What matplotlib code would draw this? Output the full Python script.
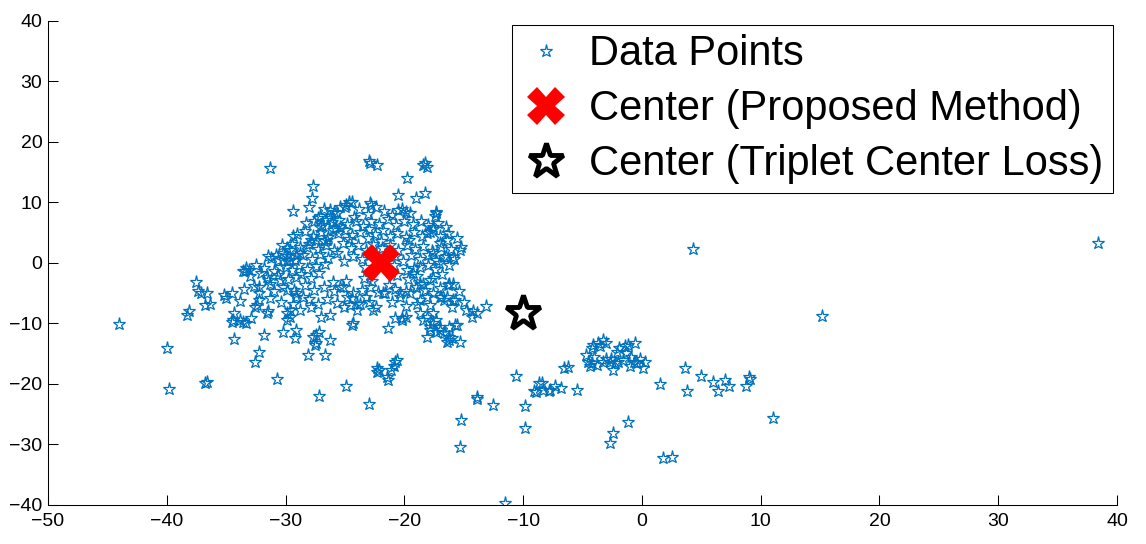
import matplotlib

matplotlib.use("Agg")
import matplotlib.pyplot as plt

# scattered points on the left side of the main cluster
left_x = [-44.0, -40.0, -39.8, -38.3, -38.1, -37.5, -37.4, -37.1, -36.6, -36.4, -36.8,
          -35.2, -34.5, -35.0, -36.6, -36.8, -34.4, -34.5, -33.8, -33.3, -32.9, -34.3,
          -32.2, -32.6, -31.8, -30.7, -30.2, -29.1, -29.2, -32.4, -32.2, -31.6, -29.9,
          -29.6, -34.3, -33.6, -32.6, -31.5, -33.4, -33.3, -33.6, -33.1]
left_y = [-10.1, -14.1, -20.8, -8.6, -8.0, -3.2, -4.6, -5.0, -5.0, -6.7, -6.9,
          -5.3, -5.0, -5.8, -19.6, -19.9, -9.4, -9.7, -9.4, -10.0, -9.1, -12.6,
          -14.7, -16.3, -11.9, -19.2, -11.4, -11.1, -12.4, -6.9, -6.1, -8.3, -8.3,
          -8.9, -8.3, -9.7, -7.2, -8.0, -1.4, -0.9, -1.3, -1.2]

# lower part of the main cluster
lower_x = [-27.2, -24.9, -23.0, -22.3, -22.1, -21.5, -21.4, -20.9, -20.8, -21.1, -20.6,
           -22.3, -26.3, -27.4, -27.7, -27.2, -26.7, -28.1, -27.5, -27.4, -27.0, -29.9,
           -29.6, -28.8, -27.9, -26.3, -29.1, -28.5, -29.4, -24.4, -24.3, -22.6, -21.6,
           -21.4, -24.4, -24.0, -20.2, -19.9, -20.8, -20.2, -20.4, -19.9, -19.5, -20.4,
           -21.8, -25.4, -24.8, -24.3, -23.7, -23.2, -25.1, -24.0, -19.8, -19.3, -18.7,
           -17.1, -16.2]
lower_y = [-22.0, -20.4, -23.3, -18.0, -17.7, -18.8, -19.3, -17.1, -16.3, -17.7, -16.0,
           -17.4, -12.7, -13.3, -12.2, -11.4, -15.2, -15.2, -13.6, -11.9, -8.9, -9.4,
           -7.8, -7.8, -7.2, -8.6, -5.0, -5.6, -6.7, -10.2, -10.0, -7.8, -5.0,
           -10.8, -5.8, -6.7, -9.1, -8.9, -9.1, -9.4, -5.0, -4.7, -5.0, -5.6,
           -5.0, -3.9, -5.6, -5.0, -6.7, -5.6, -7.2, -7.8, -1.2, -1.7, -0.6,
           0.0, -0.3]

# right edge of the main cluster
edge_x = [-18.1, -17.8, -17.6, -17.3, -18.4, -17.0, -16.7, -16.2, -18.7, -18.1, -17.6,
          -17.8, -17.0, -16.2, -15.6, -16.2, -15.3, -16.4, -17.3, -16.0, -15.7, -18.7,
          -18.1, -17.6, -16.4, -15.9, -16.3, -15.9, -16.9, -19.0, -18.4, -17.8, -17.0,
          -16.2, -15.7, -16.7, -18.3, -18.7, -14.2, -14.3, -13.9, -13.1, -14.8, -15.3,
          -16.4, -15.9, -17.6, -18.1, -17.0, -16.7, -17.6, -17.3, -17.6, -17.4]
edge_y = [-12.2, -11.1, -10.0, -9.4, -9.4, -11.1, -11.6, -12.7, -8.3, -8.9, -8.3,
          -10.5, -10.5, -10.5, -10.2, -12.2, -13.0, -13.0, -11.4, -12.4, -10.2, -3.4,
          -5.6, -5.0, -5.6, -3.4, -3.6, -6.1, -5.6, -3.9, -3.4, -2.8, -5.6,
          -3.4, -6.1, -6.1, -4.5, -6.1, -8.0, -8.9, -8.3, -7.1, -7.8, 2.1,
          3.8, 1.0, 6.0, 4.9, 3.3, 1.0, 1.6, 8.2, 5.7, 7.7]

# upper sparse points and the left rim of the cluster
upper_x = [-31.3, -27.7, -27.8, -28.0, -29.4, -27.3, -26.6, -29.4, -31.5, -25.7, -25.0,
           -24.7, -23.0, -22.3, -22.9, -18.4, -18.1, -18.3, -19.8, -20.5, -19.0, -18.3,
           -20.5, -19.9, -19.5, -17.3, -24.4, -22.9, -26.3, -27.1, -25.4, -22.8, -27.1,
           -26.0, -27.4, -27.9, -26.5, -25.4, -29.9, -30.2, -29.6, -30.6, -28.8, -28.2,
           -32.2, -31.3, -32.2, -31.6, -31.0, -30.5, -29.9, -29.6, -29.1, -29.5, -29.1,
           -30.5, -29.9, -29.1]
upper_y = [15.7, 12.7, 10.7, 9.2, 8.6, 7.4, 7.1, 4.5, 1.1, 8.2, 9.3,
           10.1, 16.8, 16.2, 16.5, 16.2, 15.9, 16.5, 14.0, 11.2, 10.7, 11.5,
           8.8, 8.5, 8.2, 8.5, 10.1, 9.9, 8.8, 7.7, 9.3, 9.6, 6.0,
           5.5, 3.8, 3.8, 3.8, 6.0, 2.4, 1.6, 0.5, 0.5, 1.6, 2.7,
           -3.9, -3.4, -5.0, -2.3, -1.4, -0.6, 0.5, 2.1, 1.3, -1.2, -2.3,
           -2.8, -4.5, -5.6]

# dense core of the main cluster
core_x = [-26.8, -25.9, -24.9, -23.8, -23.1, -22.4, -21.7, -21.0, -24.2, -26.3, -20.2,
          -28.3, -27.6, -26.9, -26.1, -25.5, -24.8, -24.1, -23.5, -22.8, -22.1, -21.4,
          -20.7, -20.0, -19.3, -18.6, -18.0, -17.2, -16.5, -25.8, -23.0,
          -29.0, -28.4, -27.7, -27.0, -26.4, -25.6, -25.0, -24.4, -23.7, -23.1, -22.5,
          -21.8, -21.2, -20.6, -19.9, -19.2, -18.5, -17.8, -17.0, -16.3, -15.6, -24.7,
          -22.0, -19.6, -26.8,
          -30.3, -29.5, -28.8, -28.0, -27.3, -26.6, -25.9, -25.2, -24.5, -23.9, -23.2,
          -22.6, -21.9, -21.2, -20.5, -19.8, -19.1, -18.4, -17.7, -16.9, -16.1, -15.2,
          -31.2, -30.8, -29.9, -29.2, -28.5, -27.8, -27.1, -26.4, -25.7, -25.1, -24.3,
          -23.6, -22.9, -20.8, -20.1, -19.4, -18.7, -18.0, -17.3, -16.5, -15.8,
          -32.5, -31.8, -30.0, -28.9, -28.2, -27.4, -26.7, -23.3, -20.9, -19.2, -18.0,
          -17.4,
          -33.0, -32.1, -31.5, -30.6, -29.8, -28.7, -27.9, -27.2, -26.0, -24.9, -23.4,
          -22.7, -20.6, -19.7, -18.9, -17.6, -16.8,
          -33.5, -32.7, -31.0, -30.2, -29.3, -28.4, -27.6, -26.8, -25.9, -25.2, -23.6,
          -22.9, -22.2, -21.3, -20.8, -19.0, -17.0, -15.4,
          -33.8, -31.3, -30.4, -28.0, -27.3, -26.5, -25.7, -24.6, -23.0, -22.4, -21.0,
          -19.9, -18.9, -17.8, -16.0, -15.0]
core_y = [9.0, 8.4, 9.6, 8.9, 8.1, 9.2, 8.6, 7.9, 7.6, 7.4, 8.9,
          6.6, 6.9, 6.2, 6.8, 7.1, 6.4, 6.9, 6.1, 7.0, 6.5, 7.2,
          6.3, 7.0, 6.4, 6.9, 6.2, 6.6, 5.9, 5.8, 5.7,
          4.8, 5.3, 4.5, 5.1, 4.3, 4.9, 5.4, 4.6, 5.2, 4.2, 4.8,
          5.5, 4.4, 5.0, 4.3, 5.2, 4.5, 5.1, 4.4, 4.9, 4.2, 3.9,
          3.7, 3.8, 3.6,
          2.9, 3.2, 2.6, 3.1, 2.3, 2.9, 2.2, 3.3, 2.5, 3.0, 2.2,
          3.2, 2.4, 2.9, 2.1, 3.0, 2.3, 2.8, 2.0, 2.7, 2.3, 2.6,
          0.8, 1.4, 1.2, 0.5, 1.3, 0.6, 1.5, 0.8, 1.6, 0.4, 1.2,
          0.6, 1.4, 1.1, 0.3, 1.4, 0.7, 1.3, 0.5, 1.2, 0.6,
          -0.4, -0.9, -0.7, -0.3, -1.0, -0.5, -0.2, -0.6, -0.4, -0.8, -0.3,
          -1.0,
          -2.2, -1.6, -2.8, -2.0, -2.6, -1.8, -2.5, -1.7, -3.1, -2.9, -2.4,
          -3.0, -2.0, -2.7, -2.1, -2.5, -1.9,
          -4.3, -3.8, -4.6, -3.9, -4.4, -3.7, -4.5, -4.0, -4.7, -3.9, -4.4,
          -4.0, -4.8, -3.6, -4.3, -4.0, -4.2, -4.7,
          -6.2, -5.8, -6.5, -6.0, -6.8, -5.9, -6.6, -7.0, -6.4, -7.2, -6.5,
          -7.1, -6.8, -7.0, -7.3, -6.5]

# second cluster at the bottom right and the far outliers
right_x = [-15.2, -15.3, -13.9, -13.9, -12.5, -10.6, -9.8, -9.8, -11.5,
           -8.9, -8.4, -8.3, -7.7, -7.3, -6.8, -5.5, -6.6, -6.2, -9.1, -8.7, -7.8,
           -2.7, -2.4, -1.2, 1.8, 2.5, 1.5, 3.6, 3.8, 5.0, 6.0, 6.4, 7.0, 7.3, 8.8,
           9.0, 9.1, 11.0,
           -4.5, -4.4, -4.7, -4.2, -4.1, -3.7, -3.3, -3.0, -3.5, -4.0, -4.2, -3.8,
           -2.7, -2.4, -2.6, -2.1, -1.9, -1.4, -1.2, -0.6, -1.3, -0.9, -0.7, -1.0,
           -0.4, -0.2, 0.1, 0.3, -1.6, -2.0, -2.3, -3.3, -3.0,
           4.3, 15.2, 38.4]
right_y = [-25.9, -30.4, -22.4, -22.1, -23.5, -18.7, -23.6, -27.3, -39.7,
           -21.3, -19.9, -21.0, -21.0, -20.4, -20.7, -21.0, -17.4, -17.2, -21.2, -19.9, -21.1,
           -29.8, -28.1, -26.2, -32.3, -32.0, -20.0, -17.4, -21.2, -18.6, -19.6, -21.2, -19.3, -20.4, -20.4,
           -18.8, -19.2, -25.6,
           -16.3, -17.1, -15.2, -14.1, -13.6, -13.3, -12.7, -13.3, -13.8, -15.5, -16.6, -16.9,
           -16.3, -17.7, -15.8, -14.7, -14.1, -13.8, -13.6, -13.3, -14.9, -15.5, -16.3, -17.1,
           -16.6, -15.8, -17.4, -16.3, -16.0, -16.3, -16.6, -16.3, -15.8,
           2.3, -8.8, 3.3]

proposed_center = (-22.0, 0.0)
triplet_center = (-10.0, -8.2)

labels = ["Data Points", "Center (Proposed Method)", "Center (Triplet Center Loss)"]

x_ticks = list(range(-50, 41, 10))
y_ticks = list(range(-40, 41, 10))

points_x = left_x + lower_x + edge_x + upper_x + core_x + right_x
points_y = left_y + lower_y + edge_y + upper_y + core_y + right_y

plt.rcParams["font.family"] = ["Liberation Sans", "DejaVu Sans"]

fig = plt.figure(figsize=(11.46, 5.44), dpi=100)
ax = fig.add_axes([0.0419, 0.0717, 0.9328, 0.8897])

ax.plot(points_x, points_y, linestyle="none", marker="*", markersize=9.5,
        markerfacecolor="none", markeredgecolor="#0072BD", markeredgewidth=0.9,
        label=labels[0])
ax.plot([proposed_center[0]], [proposed_center[1]], linestyle="none", marker="X",
        markersize=27, color="#FF0000", markeredgewidth=0, label=labels[1])
ax.plot([triplet_center[0]], [triplet_center[1]], linestyle="none", marker="*",
        markersize=26, markerfacecolor="white", markeredgecolor="black",
        markeredgewidth=3.5, label=labels[2])

ax.set_xlim(-50, 40)
ax.set_ylim(-40, 40)
ax.set_xticks(x_ticks)
ax.set_yticks(y_ticks)
ax.spines["top"].set_visible(False)
ax.spines["right"].set_visible(False)
for side in ("left", "bottom"):
    ax.spines[side].set_linewidth(0.75)
ax.tick_params(direction="in", length=7, width=0.75, labelsize=14)
ax.tick_params(axis="x", pad=6)
ax.tick_params(axis="y", pad=4)

legend = ax.legend(loc="upper right", bbox_to_anchor=(1.0, 1.0), borderaxespad=0.1,
                   fontsize=30, numpoints=1, handlelength=1.2, handletextpad=0.45,
                   labelspacing=0.36, borderpad=0.22, fancybox=False, framealpha=1)
legend.get_frame().set_edgecolor("black")
legend.get_frame().set_linewidth(0.75)

fig.savefig("out.png", dpi=100)
plt.close(fig)
